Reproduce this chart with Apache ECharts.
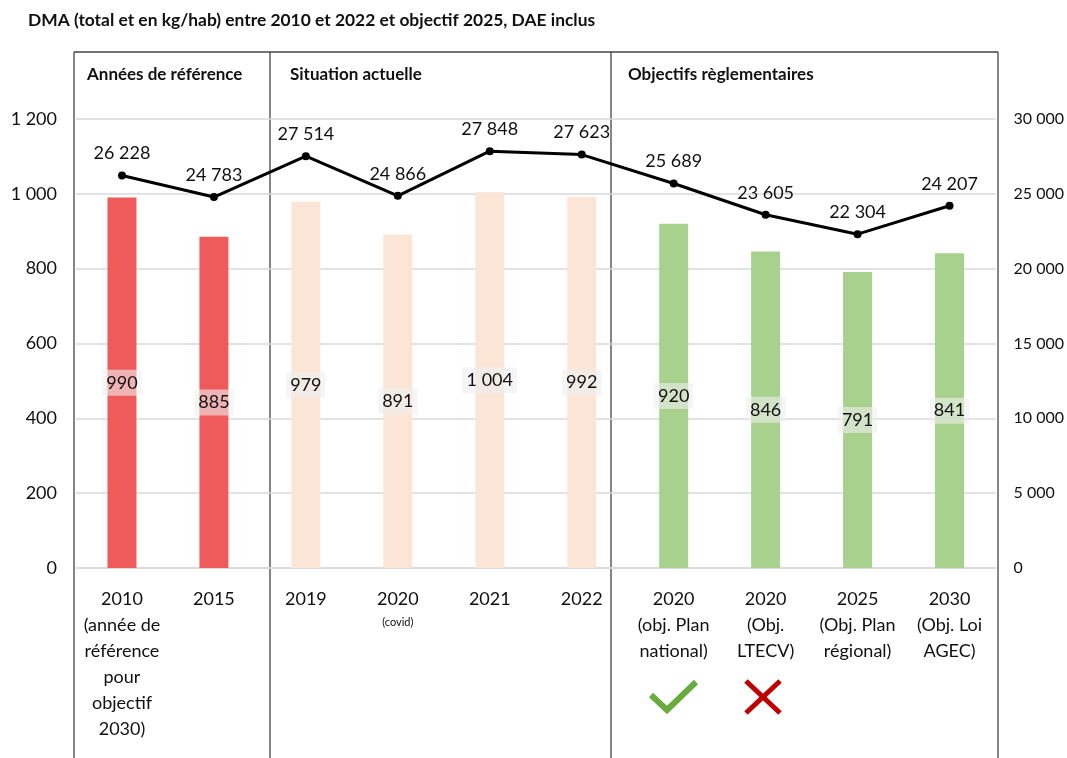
<!DOCTYPE html>
<html>
<head>
<meta charset="utf-8">
<script src="https://cdn.jsdelivr.net/npm/echarts@6/dist/echarts.min.js"></script>
<style>
  html, body { margin: 0; padding: 0; background: #fff; }
  #chart { width: 1067px; height: 758px; }
</style>
</head>
<body>
<div id="chart"></div>
<script>
// categories (x axis), one per bar
const categories = [
  '2010\n(année de\nréférence\npour\nobjectif\n2030)',
  '2015',
  '2019',
  '2020\n{s|(covid)}',
  '2021',
  '2022',
  '2020\n(obj. Plan\nnational)',
  '2020\n(Obj.\nLTECV)',
  '2025\n(Obj. Plan\nrégional)',
  '2030\n(Obj. Loi\nAGEC)'
];
// which block each category belongs to
const groups = ['ref', 'ref', 'actuel', 'actuel', 'actuel', 'actuel', 'obj', 'obj', 'obj', 'obj'];
// DMA in kg/hab (bars, left axis)
const kgParHab = [990, 885, 979, 891, 1004, 992, 920, 846, 791, 841];
// DMA total in tonnes (line, right axis)
const totalTonnes = [26228, 24783, 27514, 24866, 27848, 27623, 25689, 23605, 22304, 24207];
const sectionTitles = ['Années de référence', 'Situation actuelle', 'Objectifs règlementaires'];

const FONT = 'Lato, "Open Sans", sans-serif';
const groupColor = { ref: '#EF5B5B', actuel: '#FBE5D6', obj: '#A9D18E' };
const fmt = v => String(v).replace(/\B(?=(\d{3})+(?!\d))/g, ' ');

const chart = echarts.init(document.getElementById('chart'));
const lineStyle = { type: 'line', shape: {}, style: { stroke: '#444', lineWidth: 1.3 }, silent: true };

chart.setOption({
  animation: false,
  textStyle: { fontFamily: FONT },
  grid: { left: 76, right: 69, top: 119, bottom: 190, containLabel: false },
  xAxis: {
    type: 'category',
    data: categories,
    axisTick: { show: false },
    axisLine: { lineStyle: { color: '#d9d9d9', width: 1.5 } },
    axisLabel: {
      interval: 0, color: '#111', fontSize: 18, lineHeight: 26, margin: 18,
      fontFamily: FONT,
      rich: { s: { fontSize: 11, lineHeight: 20, color: '#111', fontFamily: FONT } }
    }
  },
  yAxis: [
    {
      type: 'value', min: 0, max: 1200, interval: 200,
      axisLine: { show: false }, axisTick: { show: false },
      splitLine: { lineStyle: { color: '#d9d9d9', width: 1.5 } },
      axisLabel: { color: '#111', fontSize: 18, margin: 19, formatter: fmt, fontFamily: FONT }
    },
    {
      type: 'value', min: 0, max: 30000, interval: 5000,
      axisLine: { show: false }, axisTick: { show: false },
      splitLine: { show: false },
      axisLabel: { color: '#111', fontSize: 16, margin: 18, formatter: fmt, fontFamily: FONT }
    }
  ],
  series: [
    {
      type: 'bar',
      yAxisIndex: 0,
      barWidth: 29,
      data: kgParHab.map((v, i) => ({ value: v, itemStyle: { color: groupColor[groups[i]] } })),
      label: {
        show: true, position: 'inside', formatter: p => fmt(p.value),
        color: '#111', fontSize: 18, fontFamily: FONT,
        backgroundColor: 'rgba(238,238,238,0.6)', padding: [4, 4, 4, 4]
      },
      z: 2
    },
    {
      type: 'line',
      yAxisIndex: 1,
      data: totalTonnes,
      symbol: 'circle', symbolSize: 8,
      itemStyle: { color: '#000' },
      lineStyle: { color: '#000', width: 3 },
      label: {
        show: true, position: 'top', distance: 9, formatter: p => fmt(p.value),
        color: '#111', fontSize: 18, fontFamily: FONT
      },
      z: 3
    }
  ],
  graphic: [
    { type: 'text', left: 28, top: 12, style: { text: 'DMA (total et en kg/hab) entre 2010 et 2022 et objectif 2025, DAE inclus', font: 'bold 17.4px ' + FONT, fill: '#111' } },
    Object.assign({}, lineStyle, { shape: { x1: 74, y1: 52, x2: 998, y2: 52 } }),
    Object.assign({}, lineStyle, { shape: { x1: 74, y1: 52, x2: 74, y2: 758 } }),
    Object.assign({}, lineStyle, { shape: { x1: 270, y1: 52, x2: 270, y2: 758 } }),
    Object.assign({}, lineStyle, { shape: { x1: 611, y1: 52, x2: 611, y2: 758 } }),
    Object.assign({}, lineStyle, { shape: { x1: 998, y1: 52, x2: 998, y2: 758 } }),
    { type: 'text', left: 87, top: 66, style: { text: sectionTitles[0], font: 'bold 17px ' + FONT, fill: '#111' } },
    { type: 'text', left: 290, top: 66, style: { text: sectionTitles[1], font: 'bold 17px ' + FONT, fill: '#111' } },
    { type: 'text', left: 628, top: 66, style: { text: sectionTitles[2], font: 'bold 17px ' + FONT, fill: '#111' } },
    // check mark (objective met) and cross (objective missed)
    { type: 'polyline', shape: { points: [[651, 695], [667, 710], [696, 682]] }, style: { stroke: '#6AAB3E', lineWidth: 6, fill: null }, silent: true },
    { type: 'line', shape: { x1: 746, y1: 681, x2: 780, y2: 713 }, style: { stroke: '#C00000', lineWidth: 5 }, silent: true },
    { type: 'line', shape: { x1: 780, y1: 681, x2: 746, y2: 713 }, style: { stroke: '#C00000', lineWidth: 5 }, silent: true }
  ]
});
</script>
</body>
</html>
